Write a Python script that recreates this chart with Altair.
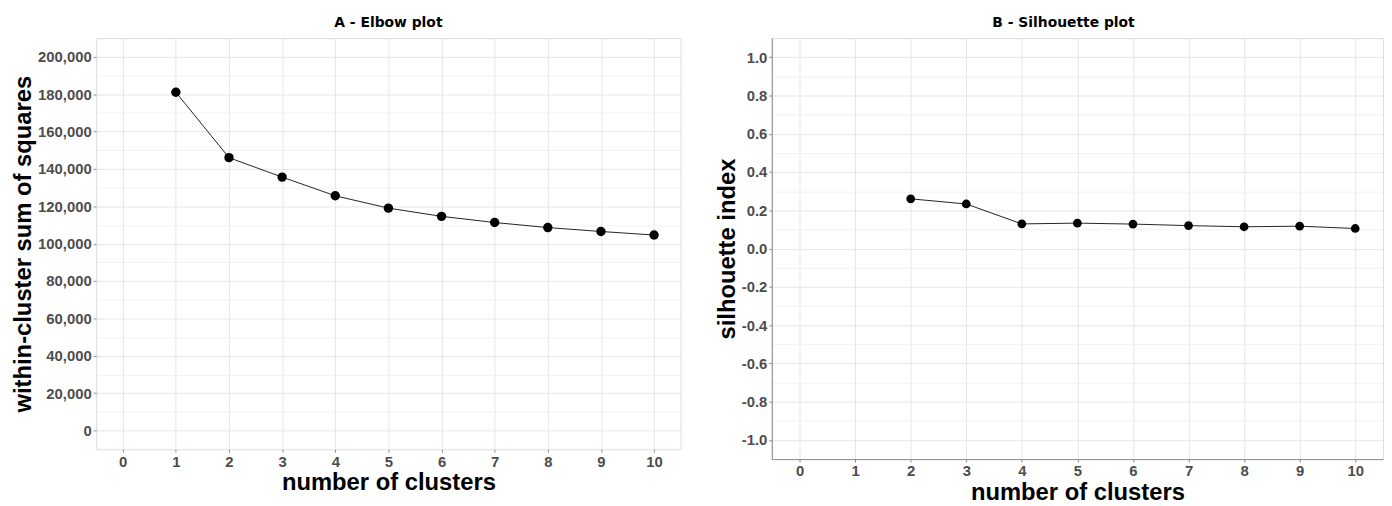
import altair as alt
import pandas as pd

# ---- data ----
k_elbow = [1, 2, 3, 4, 5, 6, 7, 8, 9, 10]
wss = [181000, 146000, 135600, 125600, 119000, 114600, 111300, 108600, 106500, 104600]

k_sil = [2, 3, 4, 5, 6, 7, 8, 9, 10]
sil = [0.260, 0.233, 0.129, 0.133, 0.128, 0.120, 0.114, 0.117, 0.105]

x_major = [0, 1, 2, 3, 4, 5, 6, 7, 8, 9, 10]
y_left_major = [0, 20000, 40000, 60000, 80000, 100000, 120000, 140000, 160000, 180000, 200000]
y_right_major = [-1.0, -0.8, -0.6, -0.4, -0.2, 0.0, 0.2, 0.4, 0.6, 0.8, 1.0]

titles = ["A - Elbow plot", "B - Silhouette plot"]
x_title = "number of clusters"
y_titles = ["within-cluster sum of squares", "silhouette index"]

# gridline positions (major + midpoints)
def with_minor(vals):
    out = []
    for a, b in zip(vals[:-1], vals[1:]):
        out.append(a)
        out.append(round((a + b) / 2, 6))
    out.append(vals[-1])
    return out

x_vals = with_minor(x_major)
yl_vals = with_minor(y_left_major)
yr_vals = with_minor(y_right_major)

df_a = pd.DataFrame({"k": k_elbow, "v": wss})
df_b = pd.DataFrame({"k": k_sil, "v": sil})

MAJOR = "#e6e6e6"
MINOR = "#f2f2f2"
LABEL = "#4d4d4d"
TICK = "#8c8c8c"
LABEL_FONT = "Liberation Sans"
TITLE_FONT = "Liberation Sans"


def axis(values, is_minor_test, label_expr, title, fmt, domain=False, title_pad=4):
    return alt.Axis(
        values=values,
        title=title,
        format=fmt,
        labelExpr=label_expr,
        labelOverlap=False,
        labelFlush=False,
        labelFont=LABEL_FONT,
        labelFontSize=15,
        labelFontWeight="bold",
        labelColor=LABEL,
        labelPadding=2,
        titleFont=TITLE_FONT,
        titleFontSize=24,
        titleFontWeight="bold",
        titleColor="black",
        titlePadding=title_pad,
        grid=True,
        gridColor={"condition": {"test": is_minor_test, "value": MINOR}, "value": MAJOR},
        gridWidth=1,
        ticks=True,
        tickSize=3,
        tickColor=TICK,
        tickOpacity={"condition": {"test": is_minor_test, "value": 0}, "value": 1},
        domain=domain,
        domainColor="#8a8a8a",
    )


x_minor = "datum.value % 1 !== 0"
x_label = "datum.value % 1 === 0 ? datum.label : ''"
yl_minor = "datum.value % 20000 !== 0"
yl_label = "datum.value % 20000 === 0 ? datum.label : ''"
yr_minor = "abs(round(datum.value * 10)) % 2 !== 0"
yr_label = "abs(round(datum.value * 10)) % 2 === 0 ? replace(datum.label, '\u2212', '-') : ''"


def panel(df, title, ytitle, ydom, yvals, ymin, ylab, yfmt, w, h, psize, domain, title_dx):
    base = alt.Chart(df).encode(
        x=alt.X(
            "k:Q",
            scale=alt.Scale(domain=[-0.5, 10.5], nice=False, zero=False),
            axis=axis(x_vals, x_minor, x_label, x_title, "d", domain, 2),
        ),
        y=alt.Y(
            "v:Q",
            scale=alt.Scale(domain=ydom, nice=False, zero=False),
            axis=axis(yvals, ymin, ylab, ytitle, yfmt, domain, 2),
        ),
    )
    line = base.mark_line(color="#222222", strokeWidth=1)
    pts = base.mark_circle(color="black", size=psize, opacity=1)
    return (line + pts).properties(
        width=w,
        height=h,
        title=alt.TitleParams(
            title, font="DejaVu Sans", fontSize=14, fontWeight="bold",
            color="black", anchor="middle", offset=8, dx=title_dx,
        ),
    )


left = panel(df_a, titles[0], y_titles[0], [-10000, 210000], yl_vals, yl_minor, yl_label, ",d",
             590, 415, 90, False, 0)
right = panel(df_b, titles[1], y_titles[1], [-1.1, 1.1], yr_vals, yr_minor, yr_label, ".1f",
              617, 425, 78, True, -14)

chart = alt.hconcat(left, right, spacing=33).properties(
    padding={"left": 3, "top": 5, "right": 0, "bottom": 0}
).configure_view(stroke="#c4c4c4", strokeWidth=1).configure(background="white")

chart.save("out.html", embed_options={"renderer": "svg", "actions": False})
